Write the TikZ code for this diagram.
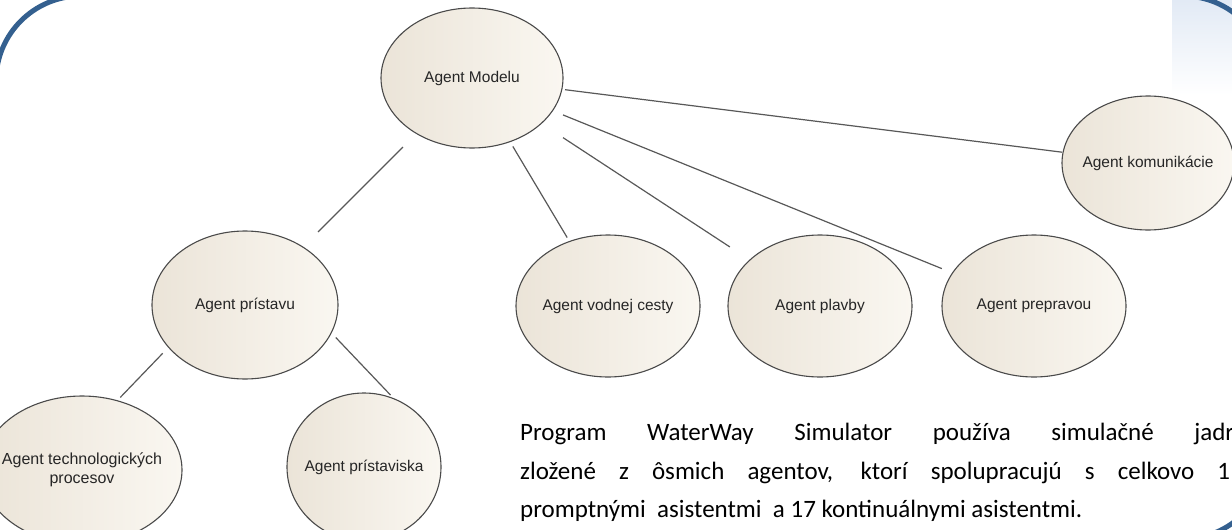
\documentclass[tikz,border=0pt]{standalone}
\usepackage{fontspec}
\setmainfont{Liberation Sans}
\newfontfamily\bodyfont{Carlito}
\usetikzlibrary{shapes.geometric,calc}
\definecolor{frameblue}{HTML}{34608F}
\definecolor{ellborder}{HTML}{4A4A4A}
\definecolor{ellleft}{HTML}{EBE4D8}
\definecolor{ellright}{HTML}{FAF7F1}
\definecolor{linegray}{HTML}{585858}
\definecolor{lbltext}{HTML}{262626}
\definecolor{paletint}{HTML}{E2EAF5}
\begin{document}
\begin{tikzpicture}[x=1pt,y=-1pt,
  agent/.style={ellipse, draw=ellborder, line width=1.1pt, left color=ellleft, right color=ellright, inner sep=0pt},
  lbl/.style={font=\fontsize{15.5}{19}\selectfont, text=lbltext, align=center, inner sep=0pt},
  conn/.style={draw=linegray, line width=1.2pt},
  frame/.style={draw=frameblue, line width=5pt, rounded corners=85pt},
  para/.style={font=\bodyfont\fontsize{25}{30}\selectfont, anchor=base west, inner sep=0pt, text=black}
]
\useasboundingbox (0,0) rectangle (1232,530);
\clip (0,0) rectangle (1232,530);
\shade[top color=paletint, bottom color=white] (1172,0) rectangle (1232,95);
\draw[frame] (-4,-4) rectangle (1268,539);

% agents
\node[agent, minimum width=182pt, minimum height=140pt, label={[lbl]center:Agent Modelu}] (m) at (472,78) {};
\node[agent, minimum width=172pt, minimum height=134pt, label={[lbl]center:Agent komunikácie}] (k) at (1148,163) {};
\node[agent, minimum width=186pt, minimum height=148pt, label={[lbl]center:Agent prístavu}] (pr) at (245,305) {};
\node[agent, minimum width=184pt, minimum height=142pt, label={[lbl]center:Agent vodnej cesty}] (v) at (608,306) {};
\node[agent, minimum width=184pt, minimum height=142pt, label={[lbl]center:Agent plavby}] (pl) at (820,306) {};
\node[agent, minimum width=184pt, minimum height=142pt, label={[lbl]center:Agent prepravou}] (pp) at (1034,306) {};
\node[agent, minimum width=200pt, minimum height=148pt, label={[lbl, font=\fontsize{16}{19}\selectfont]center:Agent technologických\\procesov}] (t) at (82,470) {};
\node[agent, minimum width=154pt, minimum height=148pt, label={[lbl]center:Agent prístaviska}] (ps) at (364,467) {};

% connectors
\draw[conn] ($(m)!0.304!(pr)$) -- ($(m)!0.678!(pr)$);
\draw[conn] ($(m)!0.30!(v)$) -- ($(m)!0.70!(v)$);
\draw[conn] ($(m)!0.2615!(pl)$) -- ($(m)!0.741!(pl)$);
\draw[conn] ($(m)!0.162!(pp)$) -- ($(m)!0.836!(pp)$);
\draw[conn] ($(m)!0.1376!(k)$) -- ($(m)!0.873!(k)$);
\draw[conn, shorten <=8pt, shorten >=4pt] (pr.209) -- (t.63);
\draw[conn, shorten <=6pt, shorten >=4pt] (pr.-18) -- (ps.67);

% paragraph
\node[para] (p1) at (520,440) {\makebox[714pt][s]{Program WaterWay Simulator používa simulačné jadr}};
\node[para] (p2) at (520,479) {\makebox[710pt][s]{zložené z ôsmich agentov, ktorí spolupracujú s celkovo 1}};
\node[para] (p3) at (520,517) {promptnými\ \ asistentmi\ \ a 17 kontinuálnymi asistentmi.};
\end{tikzpicture}
\end{document}
